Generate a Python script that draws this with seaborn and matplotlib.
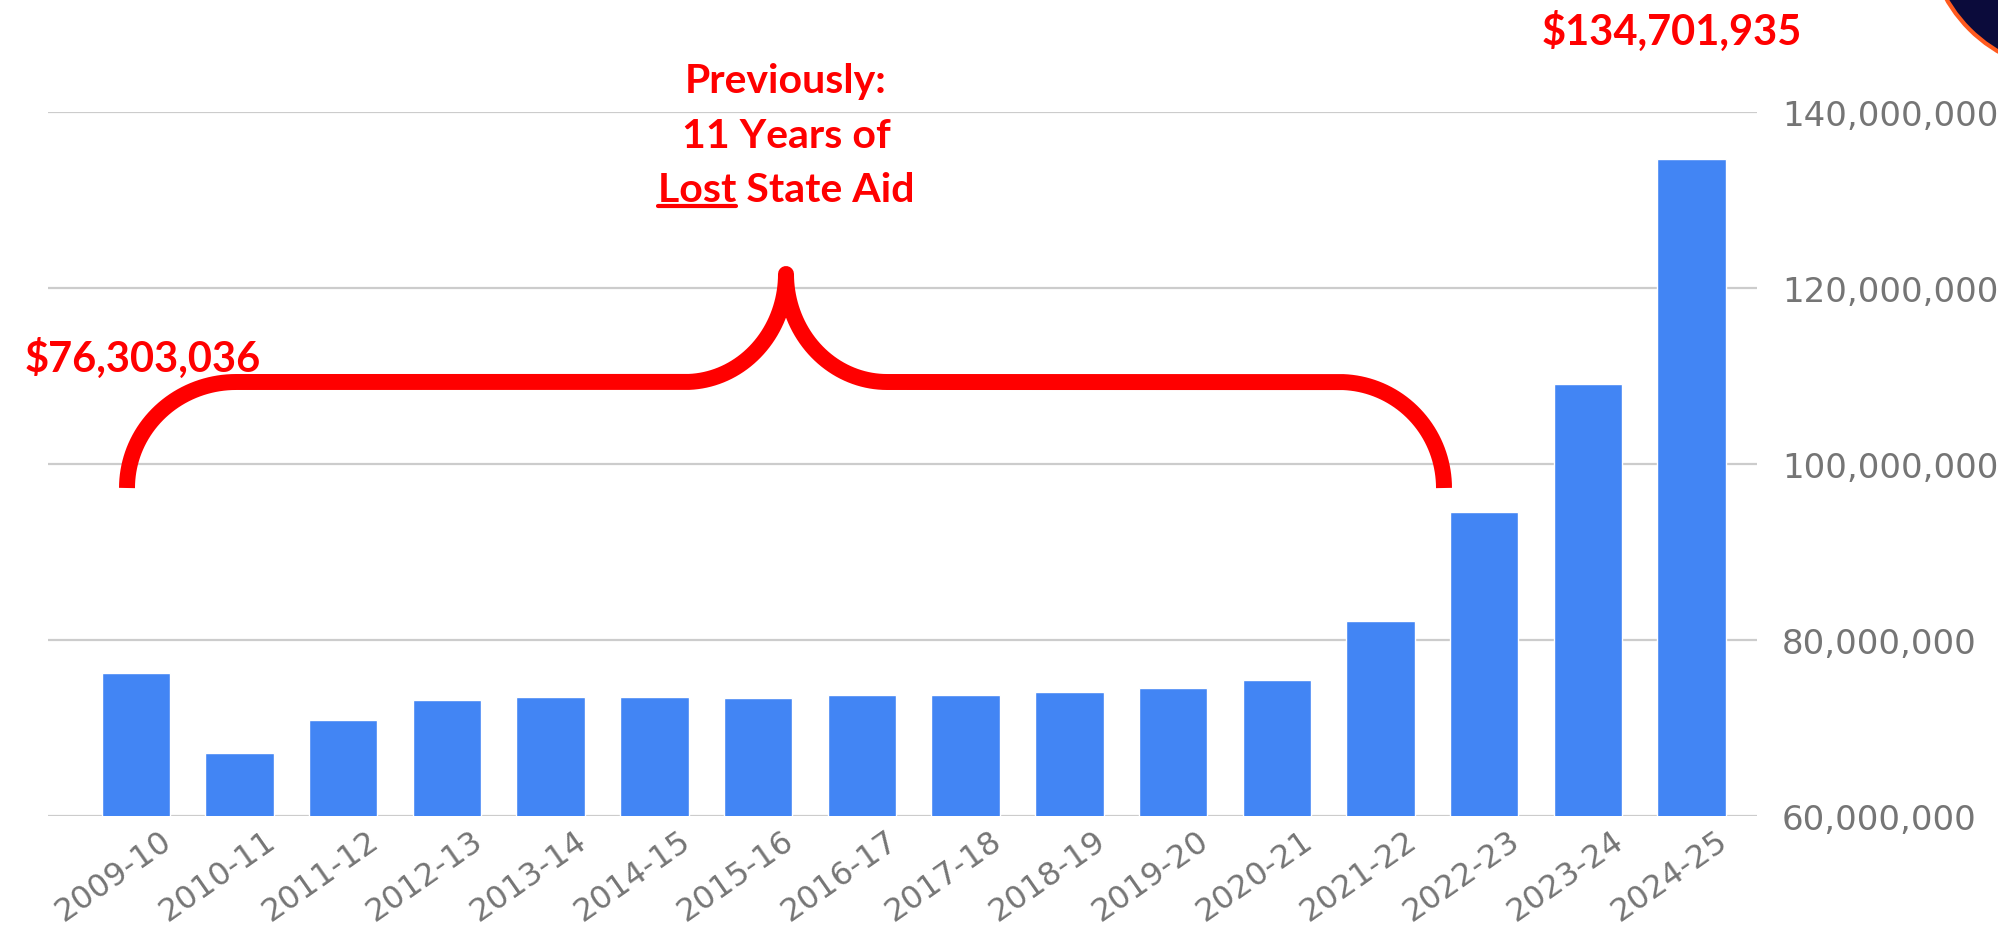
#!/usr/bin/env python3

import matplotlib
matplotlib.use('Agg')
import matplotlib.pyplot as plt
import matplotlib.transforms as mtransforms
from matplotlib.patches import Circle
import numpy as np
import pandas as pd
import seaborn as sns


YEARS = ['2009-10', '2010-11', '2011-12', '2012-13', '2013-14', '2014-15',
         '2015-16', '2016-17', '2017-18', '2018-19', '2019-20', '2020-21',
         '2021-22', '2022-23', '2023-24', '2024-25']
AID = [76303036, 67200000, 70900000, 73200000, 73500000, 73500000,
       73400000, 73800000, 73800000, 74100000, 74500000, 75400000,
       82200000, 94500000, 109100000, 134701935]
Y_TICKS = [60000000, 80000000, 100000000, 120000000, 140000000]
FIRST_LABEL = '$76,303,036'
LAST_LABEL = '$134,701,935'
NOTE_LINES = ['Previously:', '11 Years of', 'Lost State Aid']

W, H = 1998, 937
BLUE = '#4285F4'
RED = '#FF0000'
GREY = '#757575'
FONT = ['Lato', 'DejaVu Sans']


def arc(cx, cy, rx, ry, t0, t1, n=40):
    """Points of an elliptic arc in image pixels (y down)."""
    t = np.radians(np.linspace(t0, t1, n))
    return cx + rx * np.cos(t), cy - ry * np.sin(t)


def brace_points():
    """The big curly bracket over the lost-aid years."""
    parts = [arc(236, 489, 109, 106, 180, 90),
             arc(685, 275, 101, 108, -90, 0),
             arc(887, 275, 101, 108, 180, 270),
             arc(1339, 489, 105, 106, 90, 0)]
    xs = np.concatenate([p[0] for p in parts])
    ys = np.concatenate([p[1] for p in parts])
    return xs, ys


def main():
    df = pd.DataFrame({'year': YEARS, 'aid': AID})

    sns.set_theme(style='white')
    plt.rcParams['font.family'] = ['DejaVu Sans']

    fig = plt.figure(figsize=(W / 100, H / 100), dpi=100)
    ax = fig.add_axes([48 / W, 1 - 817 / H, (1757 - 48) / W, (817 - 113) / H])
    px = mtransforms.Affine2D().scale(1 / W, -1 / H).translate(0, 1) + fig.transFigure

    sns.barplot(data=df, x='year', y='aid', color=BLUE, saturation=1,
                width=0.66, ax=ax)

    ax.set_xlim(-0.846, 15.63)
    ax.set_ylim(Y_TICKS[0], Y_TICKS[-1])
    ax.set_yticks(Y_TICKS)
    ax.set_yticklabels([f'{v:,.0f}' for v in Y_TICKS], color=GREY, fontsize=24.5)
    ax.yaxis.tick_right()
    ax.tick_params(axis='y', length=0, pad=18)
    ax.grid(axis='y', color='#cccccc', linewidth=1.6)
    ax.set_axisbelow(True)
    ax.set(xlabel='', ylabel='')
    sns.despine(ax=ax, left=True, right=True, top=True, bottom=True)

    ax.tick_params(axis='x', length=0, pad=6)
    ax.set_xticks(range(len(YEARS)))
    ax.set_xticklabels(YEARS, rotation=35, ha='right', va='top',
                       rotation_mode='anchor', color=GREY, fontsize=23)
    shift = mtransforms.ScaledTranslation(0.24, 0, fig.dpi_scale_trans)
    for lab in ax.get_xticklabels():
        lab.set_transform(lab.get_transform() + shift)

    # Bracket
    bx, by = brace_points()
    fig.add_artist(plt.Line2D(bx, by, transform=px, color=RED, linewidth=11.5,
                              solid_capstyle='butt', solid_joinstyle='round'))

    # Red annotations
    fig.text(25, 372, FIRST_LABEL, transform=px, color=RED, fontsize=30,
             fontweight='bold', family=FONT, ha='left', va='baseline')
    fig.text(1672, 45, LAST_LABEL, transform=px, color=RED, fontsize=30,
             fontweight='bold', family=FONT, ha='center', va='baseline')
    for line, base in zip(NOTE_LINES, [93, 148, 202]):
        t = fig.text(786, base, line, transform=px, color=RED, fontsize=29.5,
                     fontweight='bold', family=FONT, ha='center', va='baseline')

    # underline the first word of the last line
    renderer = fig.canvas.get_renderer()
    full = t.get_window_extent(renderer)
    word = fig.text(0, 0, NOTE_LINES[-1].split()[0], fontsize=29.5,
                    fontweight='bold', family=FONT)
    wbox = word.get_window_extent(renderer)
    word.remove()
    x0 = full.x0
    x1 = full.x0 + wbox.width
    yline = H - 207
    fig.add_artist(plt.Line2D([x0 / W, x1 / W], [yline / H, yline / H],
                              transform=fig.transFigure, color=RED,
                              linewidth=3))

    # corner logo fragment
    fig.add_artist(Circle((2070, -70), 142, transform=px, facecolor='#0b0b3b',
                          edgecolor='#ff5a1f', linewidth=3, clip_on=False))

    fig.savefig('out.png', dpi=100)


if __name__ == '__main__':
    main()
